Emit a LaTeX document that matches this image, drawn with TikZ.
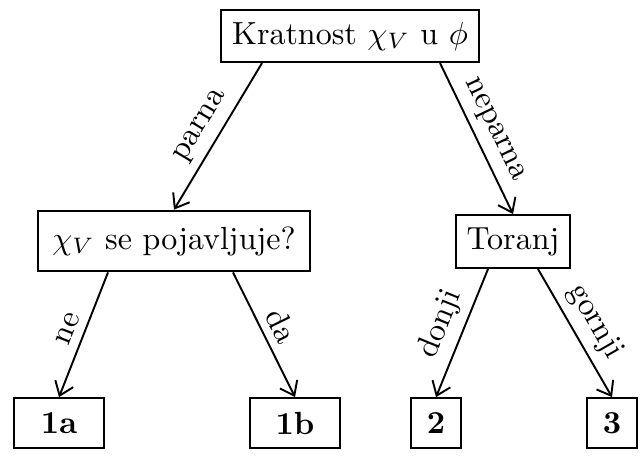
\documentclass[tikz,border=0pt]{standalone}
\usetikzlibrary{arrows.meta}
\begin{document}
\begin{tikzpicture}[x=0.3125pt, y=-0.3125pt,
  box/.style={draw, line width=0.6pt, inner sep=3.33pt},
  leaf/.style={draw, line width=0.6pt, inner sep=3.33pt, minimum height=15.6pt, font=\bfseries},
  conn/.style={line width=0.6pt, -{Straight Barb[length=4pt,width=6pt]}},
  lbl/.style={midway, above, sloped, inner sep=2.5pt}]
\useasboundingbox (0,0) rectangle (641,455);
\node[box, minimum height=16.3pt] (top) at (350,36) {Kratnost $\chi_V$ u $\phi$};
\node[box, minimum height=19pt, inner xsep=4.5pt] (q) at (174,241) {$\chi_V$ se pojavljuje?};
\node[box, minimum height=16.6pt, minimum width=33.5pt] (t) at (513,241.5) {Toranj};
\node[leaf, minimum width=28pt] (a) at (59,423) {1a};
\node[leaf, minimum width=28pt] (b) at (295,423) {1b};
\node[leaf, minimum width=15.6pt] (c) at (436,423) {2};
\node[leaf, minimum width=15.6pt] (d) at (612,423) {3};
\draw[conn] ([shift={(-88,0)}]top.south) -- node[lbl] {parna} (q.north);
\draw[conn] ([shift={(90,0)}]top.south) -- node[lbl] {neparna} (t.north);
\draw[conn] ([shift={(-66,0)}]q.south) -- node[lbl] {ne} (a.north);
\draw[conn] ([shift={(59,0)}]q.south) -- node[lbl] {da} (b.north);
\draw[conn] ([shift={(-25,0)}]t.south) -- node[lbl] {donji} (c.north);
\draw[conn] ([shift={(25,0)}]t.south) -- node[lbl] {gornji} (d.north);
\end{tikzpicture}
\end{document}
